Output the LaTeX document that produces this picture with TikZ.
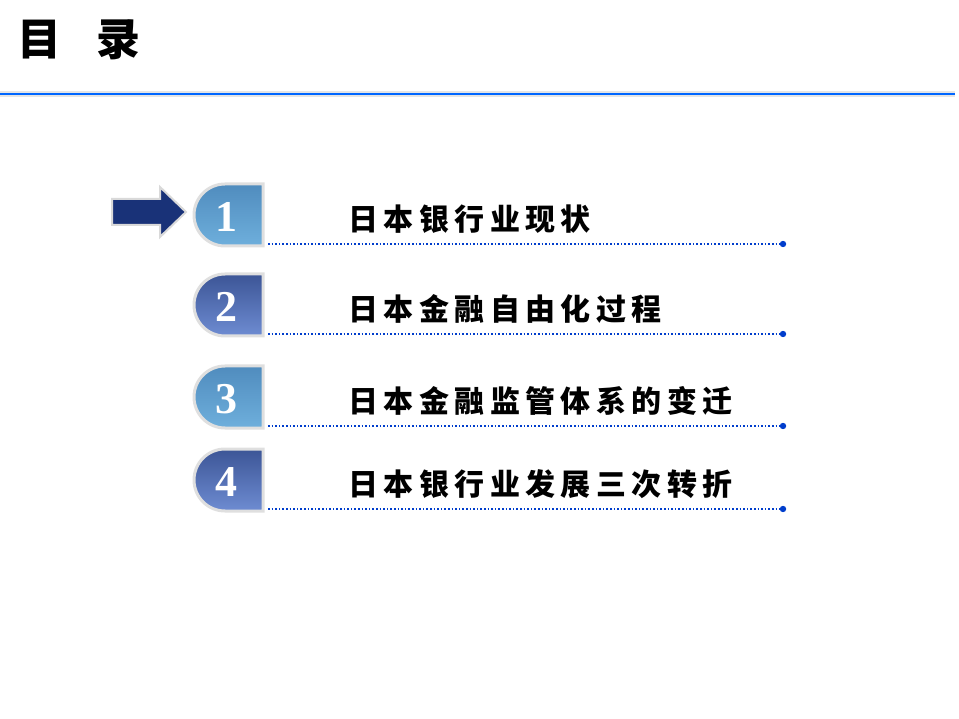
\documentclass[tikz,border=0pt]{standalone}
\usepackage{fontspec}
\newfontfamily\cjk[LetterSpace=18]{Noto Sans CJK SC}
\newfontfamily\cjkt{Noto Sans CJK SC}
\setmainfont{Liberation Serif}
\begin{document}
\begin{tikzpicture}[x=1pt,y=-1pt,
 badge/.style={draw=gray!25,line width=3pt},
 num/.style={font=\bfseries\fontsize{44}{44}\selectfont,text=white},
 item/.style={font=\cjk\bfseries\fontsize{30}{32}\selectfont,anchor=west},
 dotline/.style={draw=blue!70!cyan!80!black,line width=1.6pt,dotted}]
\useasboundingbox (0,0) rectangle (959,719);
\node[font=\cjkt\bfseries\fontsize{44}{44}\selectfont,anchor=west] (title) at (14,40) {目\hspace{0.8em}录};
\fill[gray!20] (0,91) rectangle (955,97);
\draw[blue!60!cyan,line width=1.2pt] (0,94) -- (955,94);
\definecolor{cA}{RGB}{110,175,220}\definecolor{cAd}{RGB}{80,140,190}
\definecolor{cB}{RGB}{110,140,210}\definecolor{cBd}{RGB}{60,85,150}
\foreach \y/\n/\ta/\tb/\t in {215/1/cA/cAd/日本银行业现状,305/2/cB/cBd/日本金融自由化过程,397/3/cA/cAd/日本金融监管体系的变迁,480/4/cB/cBd/日本银行业发展三次转折}{
 \draw[badge,top color=\tb,bottom color=\ta] (263,\y-31) -- (225,\y-31) arc[start angle=270,end angle=90,radius=31] -- (263,\y+31) -- cycle;
 \node[num] (n\n) at (226,\y+2) {\n};
 \node[item] (t\n) at (345,\y+4) {\t};
 \coordinate (a\n) at (268,\y+29);
 \coordinate (b\n) at (783,\y+29);
 \draw[dotline] (a\n) -- (b\n);
 \fill[blue!70!cyan!80!black] (b\n) circle (3.2);
}
\draw[fill={rgb,255:red,25;green,50;blue,120},draw=gray!30,line width=2pt] (112,199) -- (160,199) -- (160,187) -- (186,212) -- (160,237) -- (160,225) -- (112,225) -- cycle;
\end{tikzpicture}
\end{document}
